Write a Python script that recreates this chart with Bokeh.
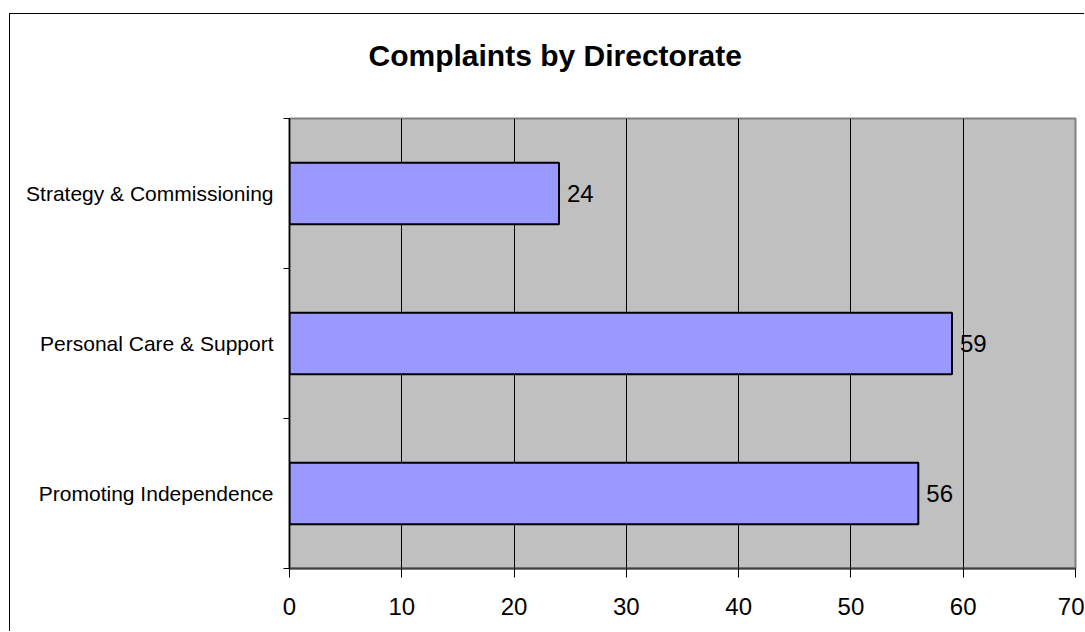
from bokeh.plotting import figure
from bokeh.models import FixedTicker, ColumnDataSource, Title
from bokeh.core.properties import value
from bokeh.embed import file_html
from bokeh.resources import INLINE

# Complaints per directorate (bottom to top on the chart)
categories = ["Promoting Independence", "Personal Care & Support", "Strategy & Commissioning"]
complaints = [56, 59, 24]
x_ticks = [0, 10, 20, 30, 40, 50, 60, 70]

FONT = "Liberation Sans"

positions = [i + 0.5 for i in range(len(categories))]
source = ColumnDataSource(data=dict(
    y=positions,
    value=complaints,
    label=[str(v) for v in complaints],
))

p = figure(
    width=1075, height=618, title=None,
    x_range=(0, 70), y_range=(0, len(categories)),
    output_backend="svg", toolbar_location=None,
    min_border_left=279, min_border_right=10,
    min_border_top=104, min_border_bottom=64,
    margin=(13, 0, 0, 9),
    styles={"border-left": "1px solid black", "border-top": "1px solid black"},
)

p.background_fill_color = "#C0C0C0"
p.border_fill_color = "white"
p.outline_line_color = "#808080"
p.outline_line_width = 2

# Bars
p.hbar(y="y", right="value", left=0, height=0.41, source=source,
       fill_color="#9999FF", line_color="black", line_width=2)

# Value labels at the bar ends
p.text(x="value", y="y", text="label", source=source,
       x_offset=8, text_align="left", text_baseline="middle",
       text_font=value(FONT), text_font_size="24px", text_color="black")

# X axis
p.xaxis.ticker = FixedTicker(ticks=x_ticks)
p.xaxis.axis_line_color = "#404040"
p.xaxis.axis_line_width = 2
p.xaxis.major_tick_out = 9
p.xaxis.major_tick_in = 0
p.xaxis.major_tick_line_color = "black"
p.xaxis.minor_tick_line_color = None
p.xaxis.major_label_text_font = FONT
p.xaxis.major_label_text_font_size = "24px"
p.xaxis.major_label_text_color = "black"
p.xaxis.major_label_standoff = 20

# Y axis: labels at category centres, ticks at category boundaries
p.yaxis.ticker = FixedTicker(ticks=positions,
                             minor_ticks=list(range(len(categories) + 1)))
p.yaxis.major_label_overrides = {pos: cat for pos, cat in zip(positions, categories)}
p.yaxis.axis_line_color = "black"
p.yaxis.axis_line_width = 1.5
p.yaxis.major_tick_out = 0
p.yaxis.major_tick_in = 0
p.yaxis.minor_tick_out = 6
p.yaxis.minor_tick_in = 0
p.yaxis.minor_tick_line_color = "black"
p.yaxis.major_label_text_font = FONT
p.yaxis.major_label_text_font_size = "21px"
p.yaxis.major_label_text_color = "black"
p.yaxis.major_label_standoff = 10

# Grid
p.xgrid.ticker = FixedTicker(ticks=x_ticks)
p.xgrid.grid_line_color = "black"
p.xgrid.grid_line_width = 1
p.ygrid.grid_line_color = None

# Blank strip between the plot area and the heading
p.add_layout(Title(text=" ", text_font_size="1px", standoff=44), "above")

# Heading
p.add_layout(Title(
    text="Complaints by Directorate", align="left", offset=79, standoff=0,
    text_font=FONT, text_font_size="30px", text_font_style="bold",
    text_color="black",
), "above")

open("out.html", "w").write(file_html(p, INLINE))
